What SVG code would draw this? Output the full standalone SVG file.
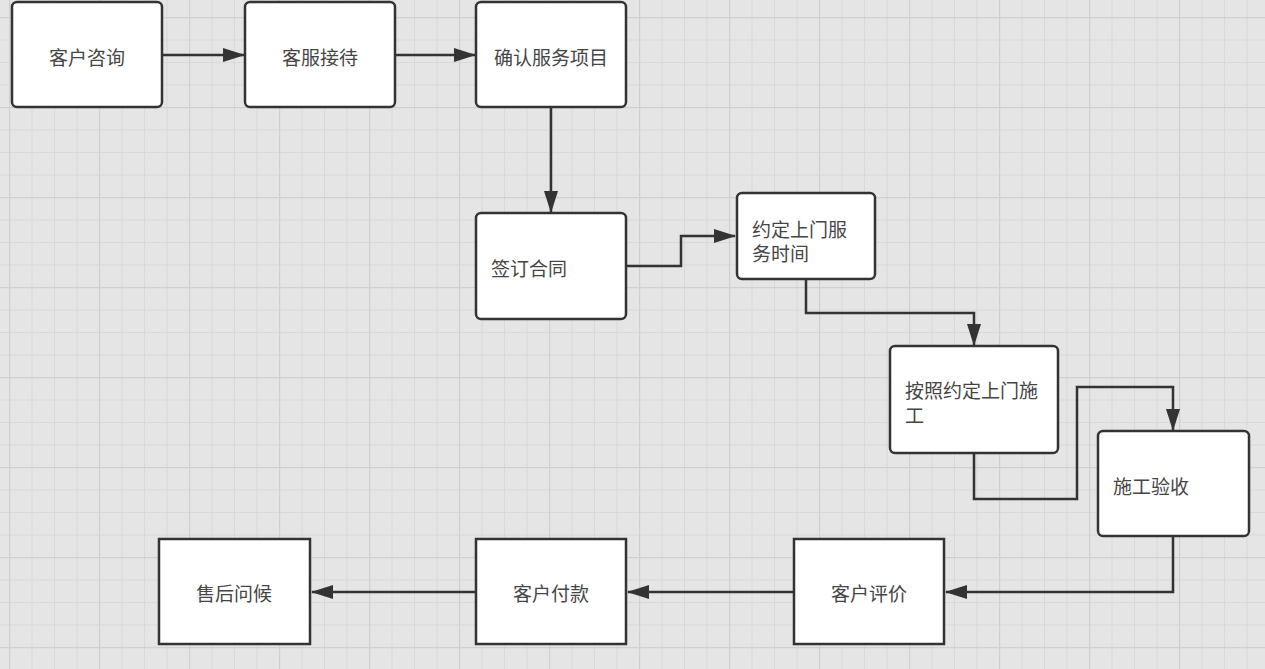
<svg xmlns="http://www.w3.org/2000/svg" width="1265" height="669" viewBox="0 0 1265 669">
<defs>
<pattern id="grid" x="9" y="17" width="90" height="90" patternUnits="userSpaceOnUse">
<rect x="0" y="0" width="90" height="90" fill="#e5e5e5"/>
<g fill="#d9d9d9">
<rect x="22.5" y="0" width="1" height="90"/>
<rect x="45" y="0" width="1" height="90"/>
<rect x="67.5" y="0" width="1" height="90"/>
<rect x="0" y="22.5" width="90" height="1"/>
<rect x="0" y="45" width="90" height="1"/>
<rect x="0" y="67.5" width="90" height="1"/>
</g>
<g fill="#d0d0d0">
<rect x="0" y="0" width="1.2" height="90"/>
<rect x="0" y="0" width="90" height="1.2"/>
</g>
</pattern>
<marker id="arr" markerUnits="userSpaceOnUse" markerWidth="22" markerHeight="14" refX="21" refY="7" orient="auto" viewBox="0 0 22 14">
<path d="M0,0 L22,7 L0,14 Z" fill="#333"/>
</marker>
<style>
.node rect{fill:#fff;stroke:#333;stroke-width:2.5}
.node text{font-family:"Microsoft YaHei","Noto Sans CJK SC",sans-serif;font-size:19px;fill:#454545;dominant-baseline:central}
.c{text-anchor:middle}
#connectors path{fill:none;stroke:#333;stroke-width:2.5;marker-end:url(#arr)}
</style>
</defs>
<rect width="1265" height="669" fill="url(#grid)"/>
<g id="connectors">
<path d="M163,55 L244,55"/>
<path d="M396,55 L475,55"/>
<path d="M551,108 L551,212"/>
<path d="M627,266 L681,266 L681,236 L735,236"/>
<path d="M806,280 L806,313 L974,313 L974,345"/>
<path d="M974,454 L974,499 L1077,499 L1077,387 L1173,387 L1173,430"/>
<path d="M1173,537 L1173,592 L946,592"/>
<path d="M794,592 L628,592"/>
<path d="M476,592 L312,592"/>
</g>
<g id="n1" class="node"><rect x="12" y="2" width="150" height="105" rx="5"/><text class="c" x="87" y="56">客户咨询</text></g>
<g id="n2" class="node"><rect x="245" y="2" width="150" height="105" rx="5"/><text class="c" x="320" y="56">客服接待</text></g>
<g id="n3" class="node"><rect x="476" y="2" width="150" height="105" rx="5"/><text class="c" x="551" y="56">确认服务项目</text></g>
<g id="n4" class="node"><rect x="476" y="213" width="150" height="106" rx="5"/><text x="491" y="267">签订合同</text></g>
<g id="n5" class="node"><rect x="737" y="193" width="138" height="86" rx="5"/><text x="752" y="227.5"><tspan x="752" y="227.5">约定上门服</tspan><tspan x="752" y="251.5">务时间</tspan></text></g>
<g id="n6" class="node"><rect x="890" y="346" width="168" height="107" rx="5"/><text x="905" y="389"><tspan x="905" y="389">按照约定上门施</tspan><tspan x="905" y="414">工</tspan></text></g>
<g id="n7" class="node"><rect x="1098" y="431" width="151" height="105" rx="5"/><text x="1113" y="485">施工验收</text></g>
<g id="n8" class="node"><rect x="794" y="539" width="150" height="105"/><text class="c" x="869" y="592">客户评价</text></g>
<g id="n9" class="node"><rect x="476" y="539" width="150" height="105"/><text class="c" x="551" y="592">客户付款</text></g>
<g id="n10" class="node"><rect x="159" y="539" width="151" height="105"/><text class="c" x="234" y="592">售后问候</text></g>
</svg>
